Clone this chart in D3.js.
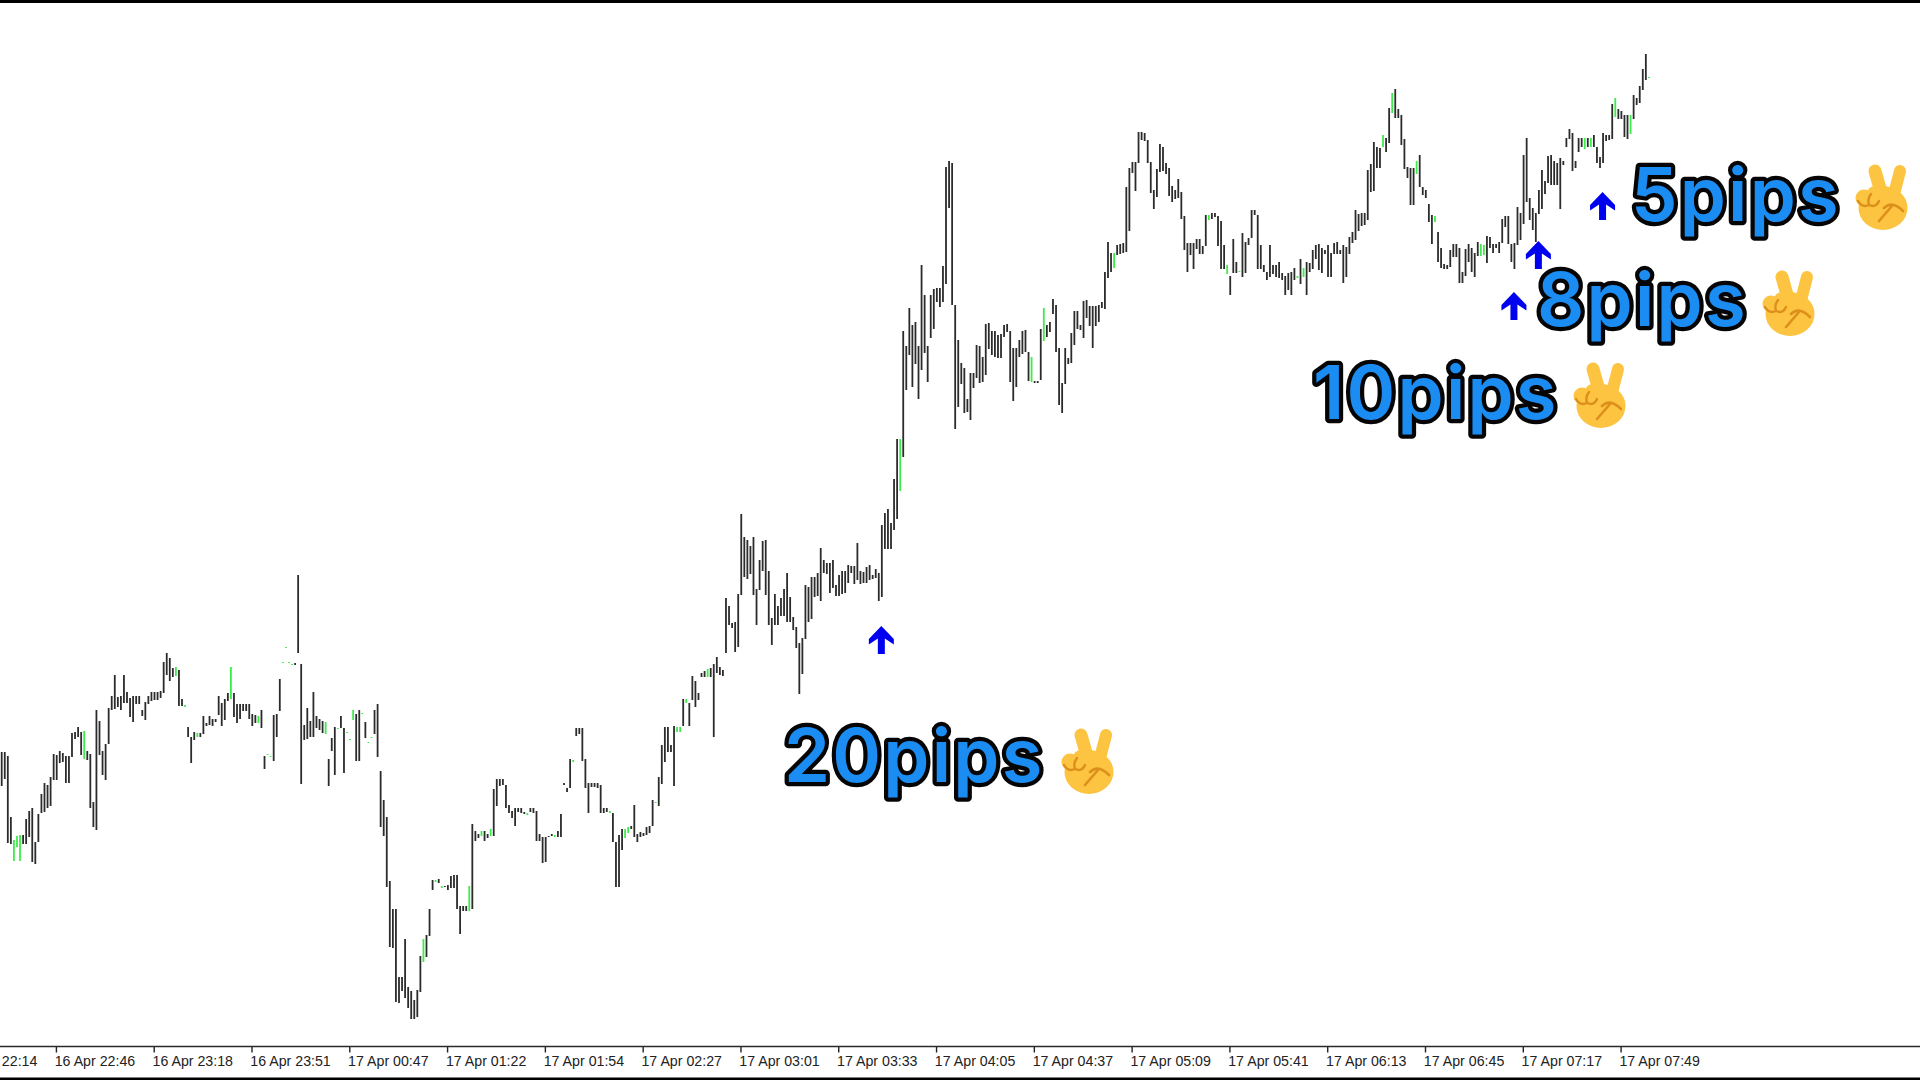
<!DOCTYPE html>
<html><head><meta charset="utf-8">
<script src="https://cdn.jsdelivr.net/npm/d3@7"></script>
<style>html,body{margin:0;padding:0;background:#fff;overflow:hidden}svg{display:block}</style>
</head><body><svg id="c" width="1920" height="1080"></svg>
<script>
// Depth of each bar's high and low below the chart ceiling, one value per bar.
const barHighDepth = [
752,752,756,817,840,836,835,835,819,811,808,842,814,794,783,785,777,754,755,751,
753,756,756,733,732,727,732,731,751,754,802,710,721,751,744,708,696,675,697,696,
675,692,698,696,696,696,710,702,696,692,692,692,691,662,653,658,668,667,670,699,
705,727,737,732,733,733,716,723,716,719,719,696,703,699,693,667,693,704,704,704,
704,704,714,715,716,710,756,754,756,715,714,679,662,647,662,664,663,575,664,725,
708,721,692,716,719,721,722,759,738,727,728,716,728,732,739,710,714,710,713,722,
742,737,710,704,771,800,817,881,909,909,977,977,939,987,991,1000,990,956,939,935,
909,880,880,879,886,886,885,876,875,875,906,906,906,886,824,831,834,831,831,834,
829,789,779,779,779,785,805,811,808,808,808,812,813,808,808,811,834,837,837,836,
834,835,831,814,783,788,759,760,728,728,728,759,783,783,783,783,785,808,808,811,
813,842,835,829,829,827,826,805,834,832,833,827,826,800,802,777,745,727,727,745,
726,727,727,699,699,703,676,681,693,673,671,669,668,664,657,667,670,598,606,623,
622,594,514,537,540,546,537,589,560,541,540,571,618,594,606,598,589,573,597,617,
627,643,638,585,587,577,577,573,548,560,563,563,560,585,575,571,571,565,566,566,
543,571,572,567,565,575,569,573,525,513,509,523,479,439,439,331,346,308,325,322,
346,265,295,346,295,289,288,288,266,167,161,163,305,340,363,368,399,373,373,345,
346,357,324,323,331,331,335,334,325,324,331,348,348,340,331,330,352,357,381,381,
329,308,325,322,299,305,348,383,348,358,333,311,311,325,301,300,306,306,306,305,
302,272,242,253,253,245,244,243,187,168,162,162,132,132,133,140,162,190,169,144,
147,163,168,186,190,179,192,216,243,243,243,239,239,246,215,215,213,213,216,221,
245,265,276,239,262,271,233,242,238,210,210,215,245,265,272,245,265,265,262,273,
276,273,272,268,276,259,268,262,263,250,245,244,248,250,245,253,243,242,250,245,
247,237,232,210,214,213,213,170,164,142,147,148,135,138,108,93,89,109,115,139,
167,168,168,161,155,187,190,204,215,216,232,248,264,265,250,244,244,248,272,249,
244,248,253,242,244,245,236,237,244,244,242,219,216,216,244,243,207,213,155,138,
198,208,213,190,170,181,156,155,161,163,158,161,138,129,133,161,138,138,138,138,
138,135,147,157,133,135,135,104,98,109,111,115,115,115,95,98,86,69,54,77];
const barLowDepth = [
786,779,843,844,861,847,861,844,844,837,862,864,842,813,812,808,806,780,780,763,
762,783,783,757,739,737,755,759,760,808,827,830,755,775,780,744,710,709,707,710,
703,703,717,722,704,704,716,720,704,701,700,700,698,693,675,681,677,676,706,706,
707,737,763,740,737,737,734,726,725,726,722,715,726,720,701,699,717,723,719,711,
711,719,726,723,723,728,769,755,757,761,737,711,663,648,663,665,665,653,784,740,
739,737,737,728,730,733,734,786,751,775,729,728,773,733,740,720,761,761,714,738,
743,738,734,757,827,836,887,947,948,1002,1003,991,998,1008,1019,1019,1017,992,962,957,
936,890,882,883,888,887,890,888,888,909,934,911,911,911,909,841,838,836,841,838,
836,836,806,786,785,808,813,818,826,812,813,814,815,812,813,841,841,863,862,837,
836,837,837,837,785,792,788,762,736,734,761,788,813,787,787,788,813,813,812,813,
842,887,887,850,838,833,829,837,842,837,836,835,833,826,803,806,784,762,752,752,
786,732,732,726,703,726,700,707,700,677,677,677,677,737,673,675,676,653,625,628,
652,647,595,577,579,574,595,625,590,571,595,625,645,625,625,616,616,622,622,630,
648,694,674,639,622,619,597,596,601,573,574,593,588,596,596,594,593,583,573,584,
580,584,583,583,580,579,578,601,597,549,549,549,530,519,491,457,390,355,387,364,
399,370,353,382,338,329,302,307,302,284,208,305,429,407,384,413,412,420,388,378,
383,382,375,349,355,357,358,358,337,332,382,401,387,357,354,352,381,382,383,383,
380,341,337,332,314,352,405,413,384,364,363,345,329,330,338,318,326,348,326,322,
308,309,278,272,268,255,254,253,252,231,173,191,163,140,141,163,193,209,197,172,
171,174,196,202,199,198,219,250,272,255,269,249,254,254,246,220,219,217,246,269,
269,274,295,273,273,272,277,273,245,238,215,269,269,272,280,277,274,277,278,280,
295,290,295,280,278,284,277,295,272,269,259,270,273,254,277,277,254,254,254,283,
277,254,243,240,231,226,225,220,192,191,168,168,147,152,143,113,118,118,145,169,
178,205,205,174,187,195,198,222,244,222,262,268,269,269,267,257,257,283,283,276,
262,272,277,256,256,255,263,248,253,248,253,243,227,244,262,269,245,240,224,202,
220,230,242,214,209,194,183,185,185,185,209,165,147,139,171,168,152,147,149,147,
147,147,163,168,163,141,140,139,117,119,119,137,139,134,119,105,103,90,80,78];
const greenBars = [4,5,6,27,57,60,64,75,84,87,88,92,93,94,95,106,110,113,114,115,118,120,121,
138,142,144,153,157,160,172,181,187,199,204,205,214,221,222,224,231,294,337,341,364,395,401,
405,424,426,452,455,463,469,484,485,518,520,528,533,539];

const tickBars = [-14,18,50,82,114,146,178,210,242,274,306,338,370,402,434,466,498,530];
const tickLabels = ["16 Apr 22:14","16 Apr 22:46","16 Apr 23:18","16 Apr 23:51","17 Apr 00:47",
"17 Apr 01:22","17 Apr 01:54","17 Apr 02:27","17 Apr 03:01","17 Apr 03:33","17 Apr 04:05",
"17 Apr 04:37","17 Apr 05:09","17 Apr 05:41","17 Apr 06:13","17 Apr 06:45","17 Apr 07:17","17 Apr 07:49"];

const signalBars = [288,495,503,524];
const signalDepth = [626,292,241,192];

const calloutText = ["20pips","10pips","8pips","5pips"];
const calloutX = [784,1313,1537,1631];
const calloutBaseline = [782,419,326,221];
const emojiX = [1060,1572,1761,1854];
const emojiTop = [728,362,270,164];

const svg = d3.select("#c");
const x = d3.scaleLinear().domain([0,539]).range([1.7,1648.9]);
const y = d3.scaleLinear().domain([0,1080]).range([0,1080]);
const greenSet = new Set(greenBars);
const barDark = "#2b2b2b", barGreen = "#3dec4a";

svg.append("g").selectAll("line").data(barHighDepth).join("line")
  .attr("x1",(d,i)=>x(i)).attr("x2",(d,i)=>x(i))
  .attr("y1",d=>y(d)).attr("y2",(d,i)=>y(barLowDepth[i]))
  .attr("stroke",(d,i)=>greenSet.has(i)?barGreen:barDark)
  .attr("stroke-width",1.8);

// frame bands
svg.append("rect").attr("x",0).attr("y",0).attr("width",1920).attr("height",3).attr("fill","#000");
svg.append("rect").attr("x",0).attr("y",1077.5).attr("width",1920).attr("height",2.5).attr("fill","#000");

// time axis
const axis = d3.axisBottom(x).tickValues(tickBars)
  .tickFormat(d=>tickLabels[tickBars.indexOf(d)]).tickSize(6);
const gx = svg.append("g").attr("transform","translate(0,1046.5)").call(axis);
gx.select(".domain").remove();
gx.append("line").attr("x1",0).attr("x2",1920).attr("stroke","#2a2a2a").attr("stroke-width",1.4);
gx.selectAll(".tick line").attr("stroke","#222").attr("stroke-width",1.4).attr("transform","translate(-0.8,0)");
gx.selectAll(".tick text").attr("text-anchor","start").attr("x",-2.5).attr("y",19).attr("dy",0)
  .attr("fill","#222").style("font","14.2px 'Liberation Sans',sans-serif");

// signal arrows
const arrow = d3.path();
arrow.moveTo(0,0);arrow.lineTo(12.5,13);arrow.lineTo(12.5,18.5);arrow.lineTo(3.5,12.5);
arrow.lineTo(3.5,28);arrow.lineTo(-3.5,28);arrow.lineTo(-3.5,12.5);arrow.lineTo(-12.5,18.5);
arrow.lineTo(-12.5,13);arrow.closePath();
svg.append("g").selectAll("path").data(signalBars).join("path")
  .attr("d",arrow.toString()).attr("fill","#0000f0")
  .attr("transform",(d,i)=>`translate(${x(d)-0.5},${y(signalDepth[i])})`);

// callouts
svg.append("g").selectAll("text").data(calloutText).join("text")
  .text(d=>d).attr("x",(d,i)=>calloutX[i]).attr("y",(d,i)=>calloutBaseline[i])
  .attr("fill","#1a8cf2").attr("stroke","#050505").attr("stroke-width",8.5)
  .attr("stroke-linejoin","round").attr("paint-order","stroke")
  .style("font","600 74px Inter,sans-serif").style("letter-spacing","2.2px");

// victory-hand marks
const skin="#fcc440", crease="#dd8f1c";
const em = svg.append("g").selectAll("g").data(emojiX).join("g")
  .attr("transform",(d,i)=>`translate(${d},${emojiTop[i]})`);
em.append("path").attr("d","M21,7 L31,42").attr("stroke",skin).attr("stroke-width",13).attr("stroke-linecap","round");
em.append("path").attr("d","M46,7 L37,42").attr("stroke",skin).attr("stroke-width",12).attr("stroke-linecap","round");
em.append("ellipse").attr("cx",29).attr("cy",44).attr("rx",24.5).attr("ry",22).attr("fill",skin);
em.append("circle").attr("cx",10).attr("cy",34).attr("r",8.5).attr("fill",skin);
em.append("circle").attr("cx",21).attr("cy",30).attr("r",8).attr("fill",skin);
em.append("path").attr("d","M4,37 Q8,44 15,41 Q22,44 25,37 M15,41 Q13,35 17,30")
  .attr("fill","none").attr("stroke",crease).attr("stroke-width",2.4).attr("stroke-linecap","round");
em.append("path").attr("d","M30,44 Q38,36 49,47 M38,42 L25,57")
  .attr("fill","none").attr("stroke",crease).attr("stroke-width",2.6).attr("stroke-linecap","round");
</script></body></html>
